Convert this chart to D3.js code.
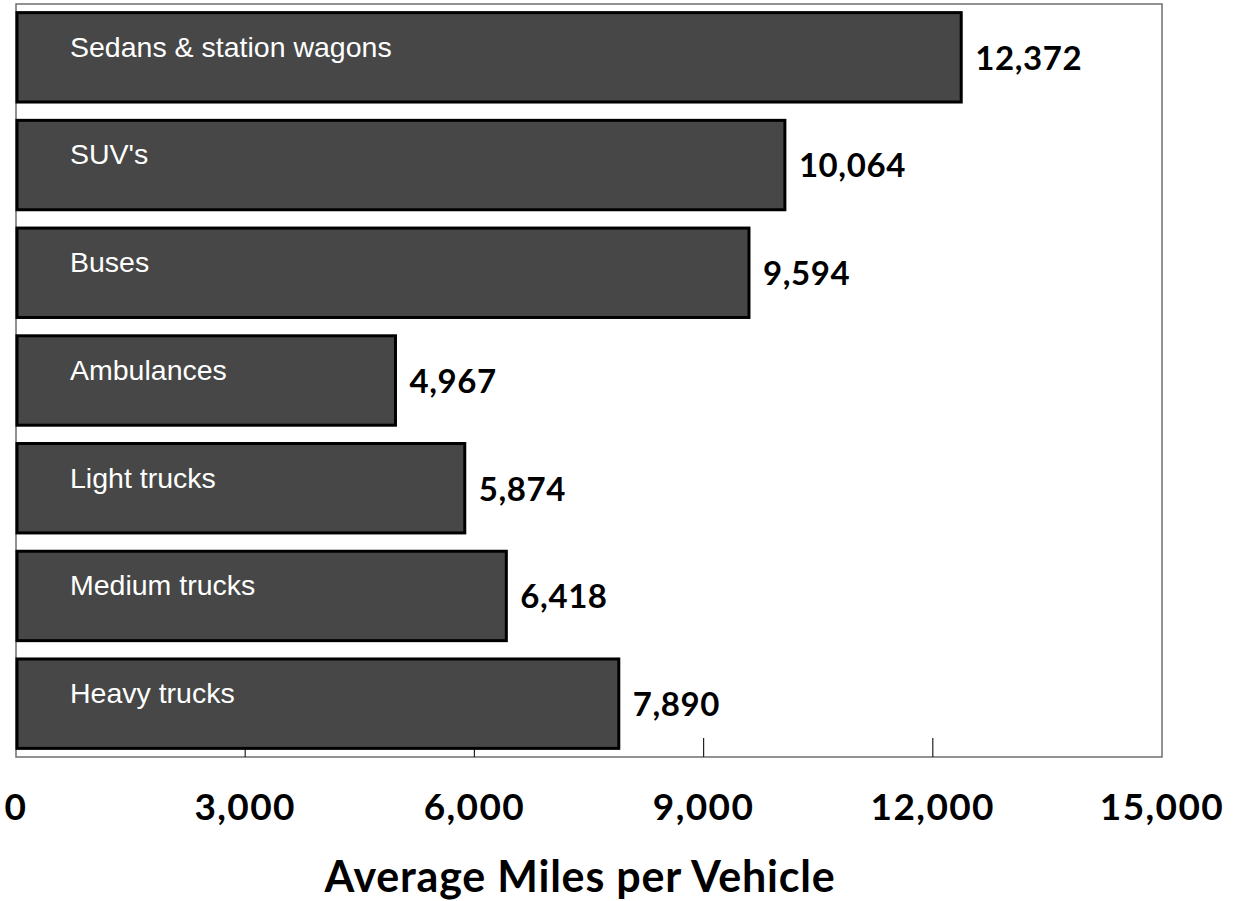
<!DOCTYPE html>
<html>
<head>
<meta charset="utf-8">
<script src="https://cdn.jsdelivr.net/npm/d3@7"></script>
<style>
  body { margin: 0; background: #fff; }
  .bar-label { font-family: "Liberation Sans", Arial, sans-serif; font-size: 28.5px; fill: #fff; }
  .value-label { font-family: Lato, "Open Sans", sans-serif; font-weight: 700; font-size: 33px; letter-spacing: 0.6px; fill: #000; }
  .tick-label { font-family: Lato, "Open Sans", sans-serif; font-weight: 700; font-size: 37px; letter-spacing: 1.4px; fill: #000; }
  .axis-title { font-family: Lato, "Open Sans", sans-serif; font-weight: 700; font-size: 43px; letter-spacing: 0.8px; fill: #000; }
</style>
</head>
<body>
<div id="chart"></div>
<script>
// Data
const categories = ['Sedans & station wagons', "SUV's", 'Buses', 'Ambulances', 'Light trucks', 'Medium trucks', 'Heavy trucks'];
const miles = [12372, 10064, 9594, 4967, 5874, 6418, 7890];
const tickValues = [0, 3000, 6000, 9000, 12000, 15000];

const width = 1236, height = 901;
const margin = { top: 4, right: 74, bottom: 144, left: 16 };

const svg = d3.select('#chart').append('svg')
    .attr('width', width)
    .attr('height', height);

const x = d3.scaleLinear()
    .domain([0, 15000])
    .range([margin.left, width - margin.right]);

const y = d3.scaleBand()
    .domain(categories)
    .range([margin.top, height - margin.bottom])
    .paddingInner(0.17)
    .paddingOuter(0.08);

const fmt = d3.format(',');
const data = categories.map((c, i) => ({ cat: c, value: miles[i] }));

// Plot frame
svg.append('rect')
    .attr('x', margin.left)
    .attr('y', margin.top)
    .attr('width', x(15000) - margin.left)
    .attr('height', height - margin.bottom - margin.top)
    .style('fill', 'none')
    .style('stroke', '#6e6e6e')
    .style('stroke-width', 1.5);

// Tick marks (inside, going up from baseline)
const baseY = height - margin.bottom;
svg.selectAll('.tick-mark')
    .data(tickValues.slice(1, -1))
    .enter().append('line')
    .attr('x1', d => x(d)).attr('x2', d => x(d))
    .attr('y1', baseY).attr('y2', baseY - 19)
    .style('stroke', '#222')
    .style('stroke-width', 1.2);

// Bars
svg.selectAll('.bar')
    .data(data)
    .enter().append('rect')
    .attr('x', x(0) + 1)
    .attr('y', d => y(d.cat))
    .attr('width', d => x(d.value) - x(0) - 1)
    .attr('height', y.bandwidth())
    .style('fill', '#464746')
    .style('stroke', '#000')
    .style('stroke-width', 3);

// Category labels inside bars
svg.selectAll('.bar-label')
    .data(data)
    .enter().append('text')
    .attr('class', 'bar-label')
    .attr('x', x(0) + 54)
    .attr('y', d => y(d.cat) + 44)
    .text(d => d.cat);

// Value labels
svg.selectAll('.value-label')
    .data(data)
    .enter().append('text')
    .attr('class', 'value-label')
    .attr('x', d => x(d.value) + 14)
    .attr('y', d => y(d.cat) + 57)
    .text(d => fmt(d.value));

// Tick labels
svg.selectAll('.tick-label')
    .data(tickValues)
    .enter().append('text')
    .attr('class', 'tick-label')
    .attr('x', d => x(d))
    .attr('y', baseY + 63)
    .attr('text-anchor', 'middle')
    .text(d => fmt(d));

// Axis title
svg.append('text')
    .attr('class', 'axis-title')
    .attr('x', (x(0) + x(15000)) / 2 - 9)
    .attr('y', 892)
    .attr('text-anchor', 'middle')
    .text('Average Miles per Vehicle');
</script>
</body>
</html>
